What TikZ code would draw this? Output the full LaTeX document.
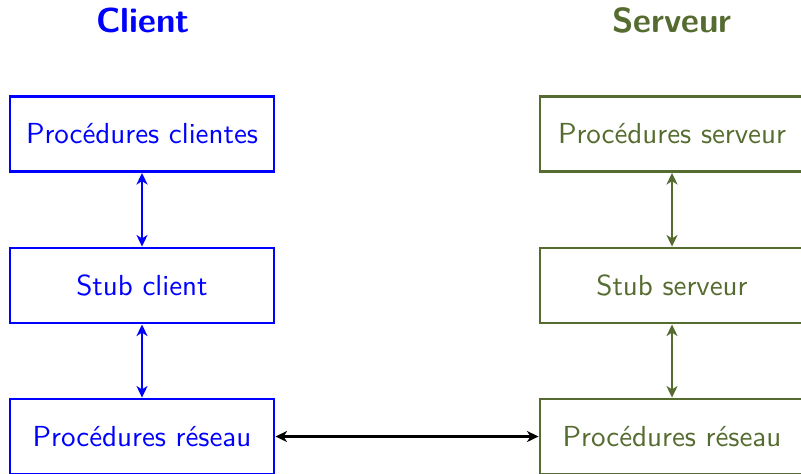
\documentclass[tikz,border=0pt]{standalone}
\usetikzlibrary{arrows.meta}
\definecolor{clientblue}{RGB}{0,0,255}
\definecolor{servgreen}{RGB}{85,107,47}
\begin{document}
\begin{tikzpicture}[x=0.345pt,y=-0.345pt,
  font=\sffamily,
  layer/.style={draw,line width=1pt,minimum width=264*0.345pt,minimum height=75*0.345pt,inner sep=0pt},
  side/.style={font=\sffamily\bfseries\large},
  link/.style={line width=1pt,{Stealth[length=4pt,width=3.8pt,inset=1.2pt]}-{Stealth[length=4pt,width=3.8pt,inset=1.2pt]}}]
\useasboundingbox (0,0) rectangle (801,473);
% client side
\node[side,text=clientblue] (ct) at (143,20) {Client};
\node[layer,draw=clientblue,text=clientblue] (cp) at (142,134) {Procédures clientes};
\node[layer,draw=clientblue,text=clientblue] (cs) at (142,285.5) {Stub client};
\node[layer,draw=clientblue,text=clientblue] (cr) at (142,436.5) {Procédures réseau};
% server side
\node[side,text=servgreen] (st) at (672,20) {Serveur};
\node[layer,draw=servgreen,text=servgreen] (sp) at (672,134) {Procédures serveur};
\node[layer,draw=servgreen,text=servgreen] (ss) at (672,285.5) {Stub serveur};
\node[layer,draw=servgreen,text=servgreen] (sr) at (672,436.5) {Procédures réseau};
% links
\draw[link,clientblue] (cp) -- (cs);
\draw[link,clientblue] (cs) -- (cr);
\draw[link,servgreen] (sp) -- (ss);
\draw[link,servgreen] (ss) -- (sr);
\draw[link,black] (cr) -- (sr);
\end{tikzpicture}
\end{document}
